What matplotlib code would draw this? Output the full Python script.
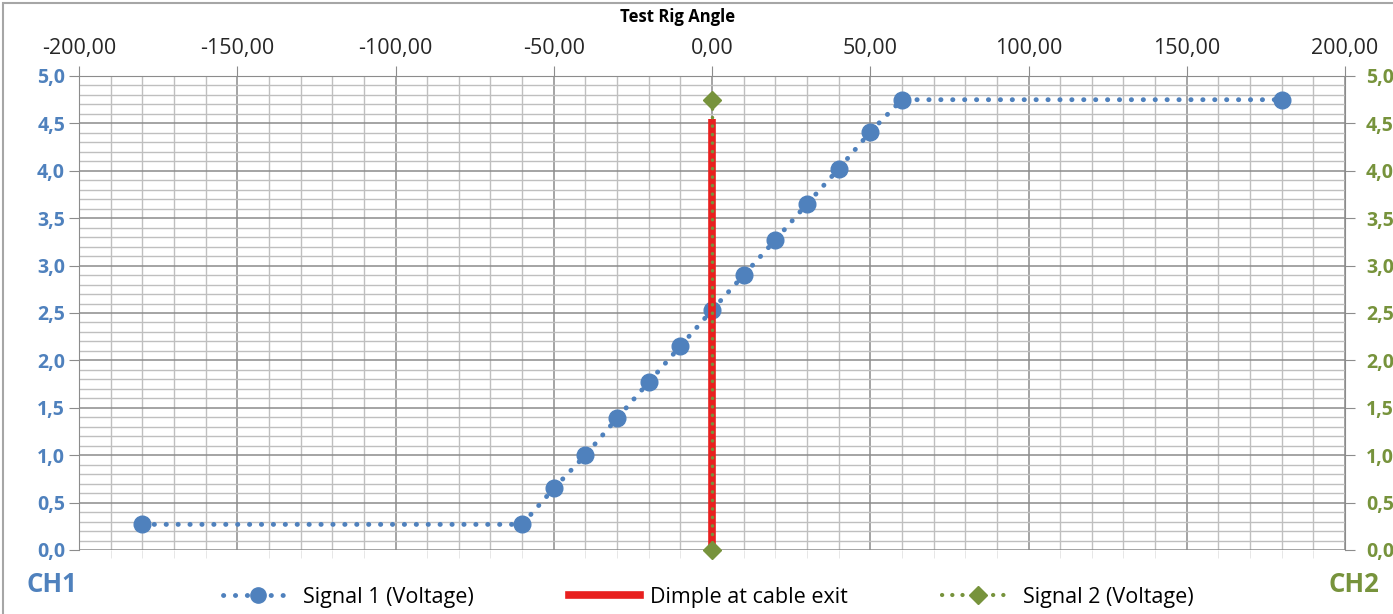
import matplotlib
matplotlib.use("Agg")
import matplotlib.pyplot as plt
from matplotlib.ticker import MultipleLocator
from matplotlib.lines import Line2D
from matplotlib.patches import Rectangle

# ---- data ----
angle = [-180, -60, -50, -40, -30, -20, -10, 0, 10, 20, 30, 40, 50, 60, 180]
signal1 = [0.27, 0.27, 0.65, 1.00, 1.39, 1.77, 2.15, 2.53, 2.90, 3.27, 3.65, 4.02, 4.41, 4.75, 4.75]
dimple_x = [0, 0]
dimple_y = [0.0, 4.55]
signal2_x = [0, 0]
signal2 = [4.75, 0.0]

x_ticks = [-200, -150, -100, -50, 0, 50, 100, 150, 200]
x_ticklabels = ["-200,00", "-150,00", "-100,00", "-50,00", "0,00", "50,00", "100,00", "150,00", "200,00"]
y_ticks = [0.0, 0.5, 1.0, 1.5, 2.0, 2.5, 3.0, 3.5, 4.0, 4.5, 5.0]
y_ticklabels = ["0,0", "0,5", "1,0", "1,5", "2,0", "2,5", "3,0", "3,5", "4,0", "4,5", "5,0"]

x_title = "Test Rig Angle"
legend_labels = ["Signal 1 (Voltage)", "Dimple at cable exit", "Signal 2 (Voltage)"]

BLUE = "#4F81BD"
GREEN = "#77933C"
RED = "#E8201F"
FONT = "Open Sans"
DOTS = (0, (0.05, 2.4))

plt.rcParams['font.family'] = [FONT, 'DejaVu Sans']

fig = plt.figure(figsize=(13.93, 6.14), dpi=100)
ax = fig.add_axes([79/1393, 1-550/614, (1345-79)/1393, (550-76)/614])
ax2 = ax.twinx()

# border of chart area
fig.patches.append(Rectangle((3/1393, -0.05), 1.2, 1-3/614+0.05, transform=fig.transFigure,
                             fill=False, edgecolor="#A6A6A6", lw=1.5))

ax.set_xlim(-200, 200)
ax.set_ylim(0, 5)
ax2.set_ylim(0, 5)

ax.set_xticks(x_ticks)
ax.set_xticklabels(x_ticklabels, fontsize=15.5, color="#262626")
ax.xaxis.set_minor_locator(MultipleLocator(10))
ax.set_yticks(y_ticks)
ax.set_yticklabels(y_ticklabels, fontsize=14, color=BLUE, fontweight="bold")
ax.yaxis.set_minor_locator(MultipleLocator(0.1))
ax2.set_yticks(y_ticks)
ax2.set_yticklabels(y_ticklabels, fontsize=14, color=GREEN, fontweight="bold")

ax.grid(which="major", color="#8C8C8C", lw=1.1)
ax.grid(which="minor", color="#BFBFBF", lw=1.0)
ax.set_axisbelow(True)

for a in (ax, ax2):
    for s in a.spines.values():
        s.set_visible(False)
ax.spines['left'].set_visible(True)
ax.spines['left'].set_color("#8C8C8C")
ax.spines['top'].set_visible(True)
ax.spines['top'].set_color("#8C8C8C")
ax2.spines['right'].set_visible(True)
ax2.spines['right'].set_color("#8C8C8C")

ax.xaxis.set_ticks_position('top')
ax.tick_params(axis='x', which='major', direction='out', length=7, color="#8C8C8C", pad=5)
ax.tick_params(axis='x', which='minor', top=False, bottom=True, direction='out', length=6,
               color="#E3E3E3")
ax.tick_params(axis='y', which='major', direction='out', length=7, color="#8C8C8C", pad=3)
ax.tick_params(axis='y', which='minor', length=0)
ax2.tick_params(axis='y', which='major', direction='out', length=7, color="#8C8C8C", pad=8)

fig.text(678/1393, 1-17/614, x_title, fontsize=12, fontweight="bold", color="black",
         ha="center", va="center")

# series
ax.plot(angle, signal1, color=BLUE, lw=3.5, linestyle=DOTS, dash_capstyle='round',
        marker='o', markersize=12, zorder=4, clip_on=False)
ax.plot(dimple_x, dimple_y, color=RED, lw=5.5, solid_capstyle='butt', zorder=5)
ax2.plot(signal2_x, signal2, color=GREEN, lw=2.5, linestyle=DOTS, dash_capstyle='round',
         marker='D', markersize=9.5, zorder=6, clip_on=False)

fig.text(26/1393, 1-585/614, "CH1", color=BLUE, fontsize=18.5, fontweight="bold", va="center")
fig.text(1328/1393, 1-585/614, "CH2", color=GREEN, fontsize=18.5, fontweight="bold", va="center")

handles = [
    Line2D([], [], color=BLUE, lw=3.5, linestyle=DOTS, dash_capstyle='round', marker='o', markersize=11),
    Line2D([], [], color=RED, lw=5.5),
    Line2D([], [], color=GREEN, lw=3, linestyle=DOTS, dash_capstyle='round', marker='D', markersize=9),
]
fig.legend(handles, legend_labels, loc="center", bbox_to_anchor=(708/1393, 1-597/614), ncol=3,
           frameon=False, fontsize=15.5, handlelength=3.3, columnspacing=4.4, handletextpad=0.45)

fig.savefig("out.png", dpi=100)
